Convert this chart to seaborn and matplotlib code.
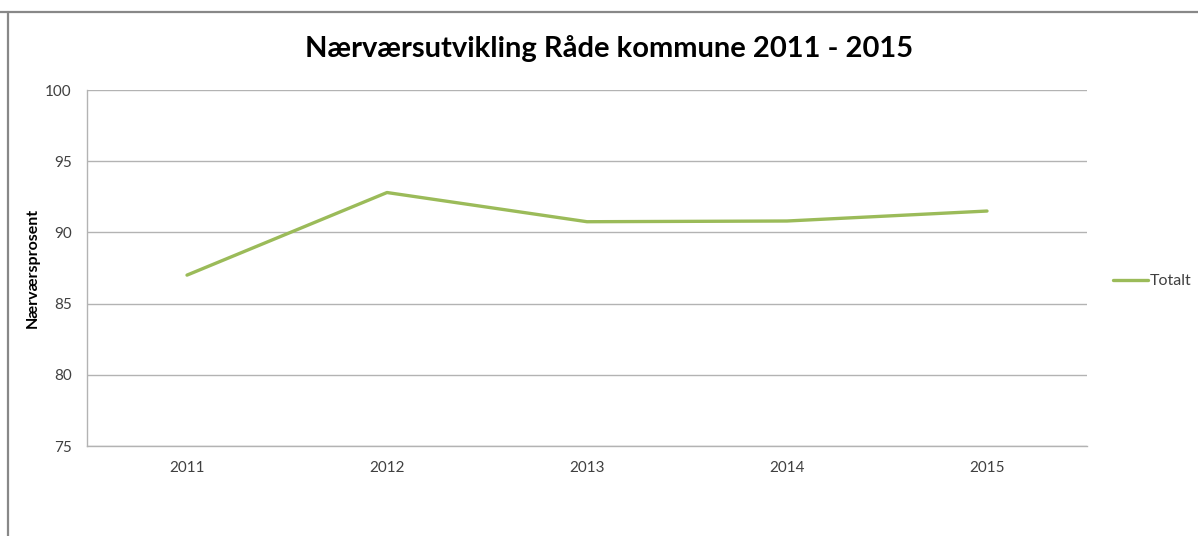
import matplotlib
matplotlib.use("Agg")
import matplotlib.pyplot as plt
from matplotlib.lines import Line2D
import seaborn as sns
import pandas as pd

years = ["2011", "2012", "2013", "2014", "2015"]
totalt = [87.0, 92.8, 90.75, 90.8, 91.5]
yticks = [75, 80, 85, 90, 95, 100]

sns.set_theme(style="white")
plt.rcParams["font.family"] = ["Lato", "DejaVu Sans"]

df = pd.DataFrame({"År": years, "Totalt": totalt})

fig = plt.figure(figsize=(11.98, 5.36), dpi=100)
ax = fig.add_axes([87/1198, 1-446/536, 1000/1198, 356/536])

sns.lineplot(data=df, x="År", y="Totalt", ax=ax, color="#9bbb59",
             linewidth=2.4, label="Totalt", sort=False)

ax.set_xlim(-0.5, 4.5)
ax.set_ylim(75, 100)
ax.set_yticks(yticks)
ax.set_yticklabels([str(v) for v in yticks])
ax.yaxis.grid(True, color="#b3b3b3", linewidth=1)
ax.xaxis.grid(False)
for s in ["top", "right"]:
    ax.spines[s].set_visible(False)
for s in ["left", "bottom"]:
    ax.spines[s].set_color("#b3b3b3")
    ax.spines[s].set_linewidth(1)
ax.tick_params(axis="both", length=0, labelsize=11, colors="#404040")
ax.tick_params(axis="y", pad=11)
ax.tick_params(axis="x", pad=11)
ax.set_xlabel("")
ax.set_ylabel("Nærværsprosent", fontsize=11.5, fontweight="bold", color="black", labelpad=4)

fig.suptitle("Nærværsutvikling Råde kommune 2011 - 2015", fontsize=21,
             fontweight="bold", x=0.508, y=0.935, color="black")

leg = ax.legend(loc="center left", bbox_to_anchor=(1.023, 0.463), frameon=False,
                fontsize=11.5, handlelength=2.2, handletextpad=0.1, borderaxespad=0,
                borderpad=0.2)
for t in leg.get_texts():
    t.set_color("#404040")

fig.add_artist(Line2D([0, 1], [1-12/536, 1-12/536], transform=fig.transFigure,
                      color="#888888", linewidth=1.6))
fig.add_artist(Line2D([8/1198, 8/1198], [0, 1-12/536], transform=fig.transFigure,
                      color="#888888", linewidth=1.6))

fig.savefig("out.png", dpi=100)
